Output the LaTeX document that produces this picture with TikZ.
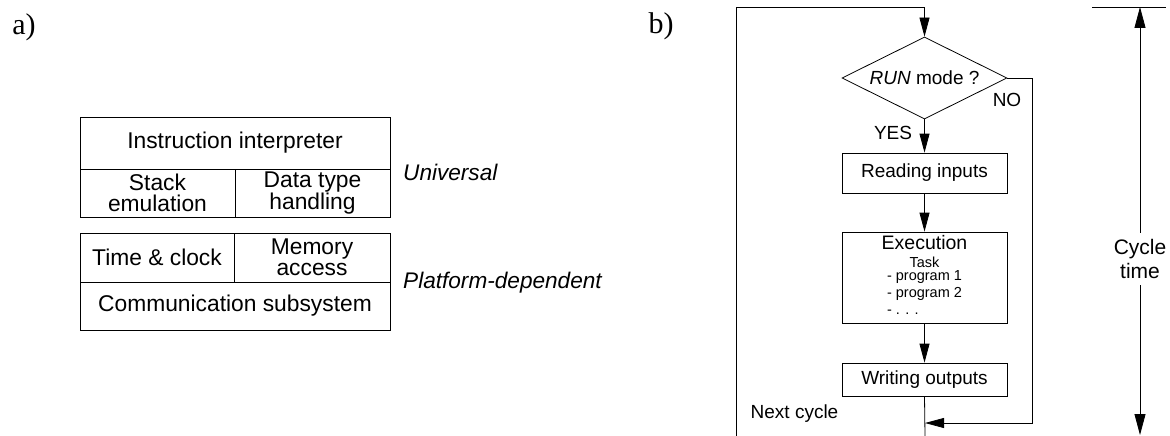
\documentclass[tikz,border=0pt]{standalone}
\usepackage{fontspec}
\setmainfont{Liberation Sans}
\newfontfamily\seriffont{Liberation Serif}
\usetikzlibrary{arrows.meta,shapes.geometric,calc}
\tikzset{
  cell/.style={draw=black, line width=0.8pt, inner sep=0pt, align=center, font=\fontsize{22.8}{20.5}\selectfont},
  flowbox/.style={draw=black, line width=0.8pt, inner sep=0pt, align=center, minimum width=165pt, font=\fontsize{19}{19}\selectfont},
  lbl/.style={inner sep=0pt, font=\fontsize{19}{19}\selectfont},
  side/.style={inner sep=0pt, anchor=west, font=\fontsize{22.6}{22}\selectfont\itshape},
  arr/.style={line width=0.8pt, -{Triangle[length=19pt,width=10pt]}},
  ln/.style={line width=0.8pt},
}
\begin{document}
\begin{tikzpicture}[x=1pt,y=-1pt]
\useasboundingbox (0,0) rectangle (1170,436);
% part labels
\node[inner sep=0pt, font=\fontsize{30}{30}\selectfont\seriffont] (la) at (24,27) {a)};
\node[inner sep=0pt, font=\fontsize{30}{30}\selectfont\seriffont] (lb) at (661,26) {b)};
% block a) universal
\node[cell, minimum width=310pt, minimum height=52pt] (instr) at (235,143) {Instruction interpreter};
\node[cell, minimum width=155pt, minimum height=48pt] (stack) at (157.5,193) {Stack\\emulation};
\node[cell, minimum width=155pt, minimum height=48pt] (dtype) at (312.5,193) {Data type\\handling};
% block a) platform
\node[cell, minimum width=154pt, minimum height=49pt] (time) at (157,257.5) {Time \& clock};
\node[cell, minimum width=156pt, minimum height=49pt] (mem) at (312,257.5) {Memory\\access};
\node[cell, minimum width=310pt, minimum height=48pt] (comm) at (235,306) {Communication subsystem};
\node[side] (univ) at (403,172) {Universal};
\node[side] (plat) at (403,283) {Platform-dependent};
% flowchart b)
\node[draw=black, line width=0.8pt, shape=diamond, aspect=2, inner sep=0pt, minimum width=165pt, minimum height=82pt, font=\fontsize{19}{19}\selectfont] (run) at (924.5,78) {\textit{RUN} mode ?};
\node[flowbox, minimum height=40pt] (read) at (924.5,173) {Reading inputs};
\node[flowbox, minimum height=91pt, font=\fontsize{14.5}{17}\selectfont] (exec) at (924.5,277.5) {{\fontsize{19.5}{17}\selectfont Execution}\\[1pt]Task\\\renewcommand\arraystretch{1}\begin{tabular}{@{}l@{}}- program 1\\- program 2\\- . . .\end{tabular}};
\node[flowbox, minimum height=33pt] (write) at (924.5,379.5) {Writing outputs};
\coordinate (loopbot) at (736,436);
\coordinate (ctop) at (924.5,7);
\coordinate (nocorner) at (1032,78);
\coordinate (join) at (925,423);
\coordinate (mainbot) at (925,436);
\draw[arr] (loopbot) |- (ctop) -- (run.north);
\draw[arr] (run.south) -- (read.north);
\draw[arr] (read.south) -- (exec.north);
\draw[arr] (exec.south) -- (write.north);
\draw[ln] (write.south) -- (mainbot);
\draw[arr] (run.east) -- (nocorner) |- (join);
\node[lbl] (yes) at (893,133) {YES};
\node[lbl] (no) at (1007,100) {NO};
\node[lbl] (next) at (794.5,414) {Next cycle};
% cycle time
\coordinate (bar1) at (1092,7);
\coordinate (bar2) at (1166,7);
\coordinate (ctt) at (1140,7);
\coordinate (ctb) at (1140,435);
\draw[ln] (bar1) -- (bar2);
\node[inner sep=0pt, align=center, font=\fontsize{21}{24}\selectfont, minimum height=52pt] (ct) at (1140,259) {Cycle\\time};
\draw[line width=0.8pt, -{Triangle[length=21pt,width=11pt]}] (ct.north) -- (ctt);
\draw[line width=0.8pt, -{Triangle[length=21pt,width=11pt]}] (ct.south) -- (ctb);
\end{tikzpicture}
\end{document}
